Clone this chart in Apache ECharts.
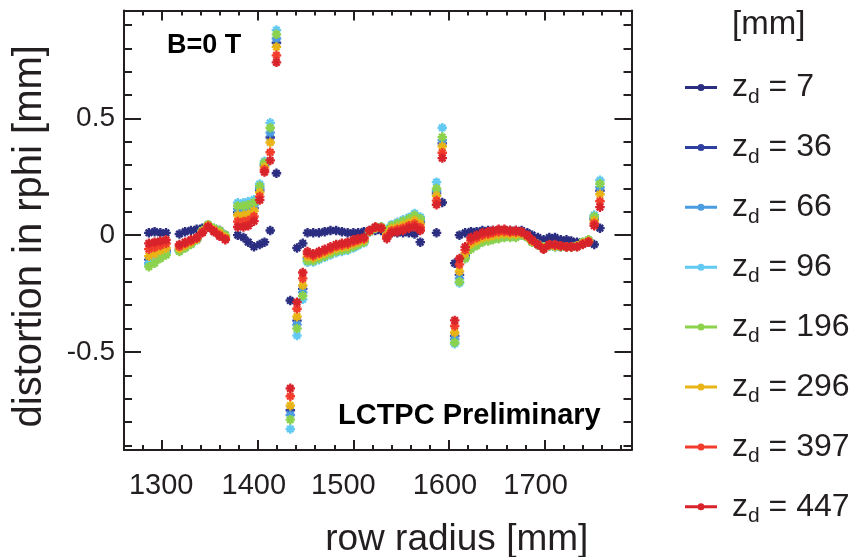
<!DOCTYPE html>
<html><head><meta charset="utf-8">
<script src="https://cdn.jsdelivr.net/npm/echarts@6/dist/echarts.min.js"></script>
<style>html,body{margin:0;padding:0;background:#fff}#c{width:853px;height:557px}</style>
</head><body><div id="c"></div>
<script>
// ---- data ----
const rowRadius = [1286,1292,1298,1304, 1318,1324,1330,1336,1342,1348,1354,1360,1366,
  1379,1385,1390,1396,1402,1407,1413,1419.5,
  1434,1441,1447,1452,1458,1464,1470,1476,1482,1488,1494,1500,1505,1511,1517,1523,1529,1535,1540,1546,1552,1558,1564,1570,1587,1593,
  1606,1611,1617,1623,1629,1635,1641,1646,1652,1658,1664,1670,1676,1682,1687,1693,1699,1705,1711,1717,1723,1728,1734,1740,1746,1752,1758];

const zd7 = [0.01,0.015,0.01,0.01, 0.005,0.015,0.02,0.025,0.03,0.035,0.025,0.02,0.0,
  0.0,-0.01,-0.03,-0.05,-0.04,-0.03,0.02,0.265,
  -0.28,-0.055,-0.035,0.01,0.01,0.01,0.015,0.02,0.02,0.015,0.01,0.01,0.01,0.015,0.02,0.02,0.02,0.015,0.01,0.01,0.01,0.01,0.005,-0.03,0.01,0.14,
  -0.12,0.0,0.01,0.015,0.015,0.02,0.02,0.02,0.02,0.02,0.02,0.02,0.02,0.01,0.0,-0.01,-0.02,-0.01,-0.01,-0.02,-0.02,-0.025,-0.03,-0.035,-0.03,-0.04,0.03];

const zd36 = [-0.105,-0.093,-0.078,-0.066, -0.061,-0.048,-0.034,-0.017,0.017,0.042,0.026,0.013,-0.006,
  0.098,0.098,0.103,0.116,0.192,0.298,0.418,0.824,
  -0.75,-0.366,-0.23,-0.098,-0.101,-0.091,-0.081,-0.071,-0.061,-0.056,-0.051,-0.041,-0.033,-0.024,0.017,0.032,0.034,0.01,0.031,0.04,0.048,0.058,0.07,0.055,0.179,0.393,
  -0.432,-0.17,-0.085,-0.045,-0.032,-0.018,-0.013,-0.008,-0.003,0.001,-0.001,-0.001,0.005,-0.007,-0.027,-0.04,-0.053,-0.044,-0.047,-0.049,-0.05,-0.05,-0.047,-0.033,-0.023,0.068,0.19];

const zd66 = [-0.12,-0.107,-0.089,-0.075, -0.066,-0.051,-0.037,-0.019,0.019,0.044,0.028,0.016,-0.003,
  0.112,0.112,0.117,0.128,0.201,0.304,0.439,0.842,
  -0.77,-0.383,-0.245,-0.104,-0.106,-0.096,-0.086,-0.076,-0.066,-0.061,-0.056,-0.046,-0.036,-0.027,0.016,0.031,0.034,0.015,0.036,0.045,0.054,0.064,0.078,0.063,0.19,0.407,
  -0.446,-0.185,-0.093,-0.053,-0.038,-0.024,-0.019,-0.014,-0.009,-0.005,-0.006,-0.006,0.002,-0.009,-0.029,-0.04,-0.052,-0.044,-0.049,-0.049,-0.05,-0.05,-0.046,-0.032,-0.022,0.074,0.205];

const zd96 = [-0.125,-0.111,-0.093,-0.079, -0.067,-0.053,-0.038,-0.019,0.019,0.044,0.029,0.018,-0.002,
  0.139,0.139,0.144,0.152,0.219,0.316,0.481,0.878,
  -0.83,-0.43,-0.275,-0.116,-0.115,-0.105,-0.095,-0.085,-0.075,-0.07,-0.065,-0.055,-0.044,-0.033,0.014,0.029,0.036,0.025,0.045,0.055,0.066,0.076,0.093,0.078,0.227,0.46,
  -0.465,-0.205,-0.1,-0.055,-0.041,-0.026,-0.021,-0.016,-0.011,-0.007,-0.007,-0.007,0.002,-0.009,-0.029,-0.04,-0.051,-0.045,-0.049,-0.05,-0.05,-0.05,-0.046,-0.031,-0.021,0.086,0.235];

const zd196 = [-0.135,-0.12,-0.10,-0.085, -0.07,-0.055,-0.04,-0.02,0.02,0.045,0.03,0.02,0.0,
  0.125,0.125,0.13,0.14,0.21,0.31,0.46,0.86,
  -0.79,-0.40,-0.26,-0.11,-0.11,-0.10,-0.09,-0.08,-0.07,-0.065,-0.06,-0.05,-0.04,-0.03,0.015,0.03,0.035,0.02,0.04,0.05,0.06,0.07,0.085,0.07,0.20,0.42,
  -0.46,-0.20,-0.10,-0.06,-0.045,-0.03,-0.025,-0.02,-0.015,-0.01,-0.01,-0.01,0.0,-0.01,-0.03,-0.04,-0.05,-0.045,-0.05,-0.05,-0.05,-0.05,-0.045,-0.03,-0.02,0.08,0.22];

const zd296 = [-0.09,-0.08,-0.066,-0.056, -0.057,-0.044,-0.031,-0.016,0.016,0.041,0.023,0.009,-0.009,
  0.085,0.085,0.09,0.104,0.183,0.292,0.397,0.806,
  -0.73,-0.349,-0.215,-0.092,-0.097,-0.087,-0.077,-0.067,-0.057,-0.052,-0.047,-0.037,-0.029,-0.021,0.017,0.032,0.033,0.004,0.027,0.034,0.042,0.052,0.063,0.048,0.169,0.38,
  -0.417,-0.155,-0.078,-0.038,-0.025,-0.012,-0.007,-0.002,0.003,0.006,0.004,0.004,0.007,-0.006,-0.026,-0.04,-0.055,-0.043,-0.046,-0.048,-0.05,-0.05,-0.047,-0.035,-0.025,0.062,0.175];

const zd397 = [-0.06,-0.053,-0.044,-0.036, -0.048,-0.036,-0.025,-0.013,0.013,0.038,0.019,0.001,-0.015,
  0.058,0.058,0.063,0.08,0.165,0.28,0.355,0.77,
  -0.69,-0.315,-0.185,-0.08,-0.088,-0.078,-0.068,-0.058,-0.048,-0.043,-0.038,-0.028,-0.021,-0.015,0.019,0.034,0.031,-0.006,0.018,0.024,0.03,0.04,0.048,0.033,0.148,0.353,
  -0.389,-0.125,-0.063,-0.023,-0.011,0.0,0.005,0.01,0.015,0.016,0.013,0.013,0.011,-0.003,-0.023,-0.04,-0.058,-0.041,-0.043,-0.046,-0.05,-0.05,-0.049,-0.038,-0.028,0.05,0.145];

const zd447 = [-0.035,-0.03,-0.025,-0.02, -0.04,-0.03,-0.02,-0.01,0.01,0.035,0.015,-0.005,-0.02,
  0.035,0.035,0.04,0.06,0.15,0.27,0.32,0.74,
  -0.656,-0.287,-0.16,-0.07,-0.08,-0.07,-0.06,-0.05,-0.04,-0.035,-0.03,-0.02,-0.015,-0.01,0.02,0.035,0.03,-0.015,0.01,0.015,0.02,0.03,0.035,0.02,0.13,0.33,
  -0.365,-0.10,-0.05,-0.01,0.0,0.01,0.015,0.02,0.025,0.025,0.02,0.02,0.015,0.0,-0.02,-0.04,-0.06,-0.04,-0.04,-0.045,-0.05,-0.05,-0.05,-0.04,-0.03,0.04,0.12];

const driftLabels = ['7','36','66','96','196','296','397','447'];
const driftValues = [zd7, zd36, zd66, zd96, zd196, zd296, zd397, zd447];
const xMajorTicks = [1300,1400,1500,1600,1700];
const xMinorTicks = [1280,1320,1340,1360,1380,1420,1440,1460,1480,1520,1540,1560,1580,1620,1640,1660,1680,1720,1740,1760,1780];
const yMajorTicks = [-0.5,0,0.5];
const yMinorTicks = [-0.9,-0.8,-0.7,-0.6,-0.4,-0.3,-0.2,-0.1,0.1,0.2,0.3,0.4,0.6,0.7,0.8,0.9];

// ---- style ----
const colors = ['#2b2e80','#2f3f9f','#4a9de0','#62c9f2','#8cd24c','#e8b416','#f23c2c','#d8232a'];
const AX = '#231f20';
const FONT = "'Liberation Sans', Arial, sans-serif";
const marker = 'path://M7.5,0H12.5V7.5H20V12.5H12.5V20H7.5V12.5H0V7.5H7.5Z M5,1.5L18.5,15L15,18.5L1.5,5Z M15,1.5L18.5,5L5,18.5L1.5,15Z';
const legendIcon = 'path://M0,2.5L32,2.5L32,5.5L0,5.5Z M19.5,4A3.5,3.5,0,1,1,12.5,4A3.5,3.5,0,1,1,19.5,4Z';
const xLabelShift = {1300:1,1400:4,1500:10,1600:4,1700:9};
const xRich = {};
xMajorTicks.forEach(v => { xRich['t' + v] = {fontSize:29, fontFamily:FONT, color:AX, padding:[0, 2 * xLabelShift[v], 0, 0]}; });

const line = {color: AX, width: 2};
function xAx(pos, ticks, len, main) {
  return {
    type:'value', position:pos, min:1260, max:1791,
    axisLine:{show:main, onZero:false, lineStyle:line},
    axisTick:{show:true, inside:true, length:len, customValues:ticks, lineStyle:line},
    axisLabel:{show:false}, splitLine:{show:false}
  };
}
function yAx(pos, ticks, len, main) {
  return {
    type:'value', position:pos, min:-0.92, max:0.962,
    axisLine:{show:main, onZero:false, lineStyle:line},
    axisTick:{show:true, inside:true, length:len, customValues:ticks, lineStyle:line},
    axisLabel:{show:false}, splitLine:{show:false}
  };
}
const xMain = xAx('bottom', xMajorTicks, 10, true);
xMain.axisLabel = {show:true, customValues:xMajorTicks, margin:21, formatter: v => '{t' + v + '|' + v + '}', rich:xRich};
xMain.name = 'row radius [mm]';
xMain.nameLocation = 'middle';
xMain.nameGap = 71.5;
xMain.nameTextStyle = {fontSize:37, fontFamily:FONT, color:AX, padding:[0,0,0,158]};
const yMain = yAx('left', yMajorTicks, 17, true);
yMain.axisLabel = {show:true, customValues:yMajorTicks, margin:9, fontSize:28, fontFamily:FONT, color:AX};
yMain.name = 'distortion in rphi [mm]';
yMain.nameLocation = 'middle';
yMain.nameGap = 74;
yMain.nameTextStyle = {fontSize:40, fontFamily:FONT, color:AX, padding:[0,12,0,0]};

const chart = echarts.init(document.getElementById('c'), null, {renderer:'canvas'});
chart.setOption({
  backgroundColor:'#ffffff',
  animation:false,
  grid:{left:124, right:221.5, top:10.5, bottom:107, containLabel:false, outerBoundsMode:'none'},
  xAxis:[xMain, xAx('bottom', xMinorTicks, 5, false), xAx('top', xMajorTicks, 10, true), xAx('top', xMinorTicks, 5, false)],
  yAxis:[yMain, yAx('left', yMinorTicks, 8, false), yAx('right', yMajorTicks, 17, true), yAx('right', yMinorTicks, 8, false)],
  title:{text:'[mm]', left:732, top:8, padding:0, textStyle:{fontSize:33, fontWeight:'normal', fontFamily:FONT, color:AX, lineHeight:33}},
  legend:{
    orient:'vertical', left:685, top:71.5, padding:0, itemWidth:32, itemHeight:8, itemGap:23.9, selectedMode:false,
    data: driftLabels.map(n => ({name:'zd = ' + n, icon:legendIcon, itemStyle:{opacity:1}})),
    formatter: name => '{z|z}{d|d}{v| = ' + name.split(' = ')[1] + '}',
    textStyle:{rich:{
      z:{fontSize:32, lineHeight:40, fontFamily:FONT, color:AX, padding:[0,0,0,10]},
      d:{fontSize:21, lineHeight:20, fontFamily:FONT, color:AX, verticalAlign:'bottom'},
      v:{fontSize:32, lineHeight:40, fontFamily:FONT, color:AX}
    }}
  },
  graphic:[
    {type:'text', x:167, y:46, z:100, style:{text:'B=0 T', fontSize:27, fontWeight:'bold', fontFamily:FONT, fill:'#000', align:'left', verticalAlign:'middle'}},
    {type:'text', x:338, y:415.5, z:100, style:{text:'LCTPC Preliminary', fontSize:29, fontWeight:'bold', fontFamily:FONT, fill:'#000', align:'left', verticalAlign:'middle'}}
  ],
  series: driftValues.map((vals, i) => ({
    name:'zd = ' + driftLabels[i], type:'scatter', xAxisIndex:0, yAxisIndex:0,
    symbol:marker, symbolSize:9.5, silent:true,
    itemStyle:{color:colors[i], opacity:1},
    data: rowRadius.map((r, k) => [r, vals[k]])
  }))
});
</script></body></html>
